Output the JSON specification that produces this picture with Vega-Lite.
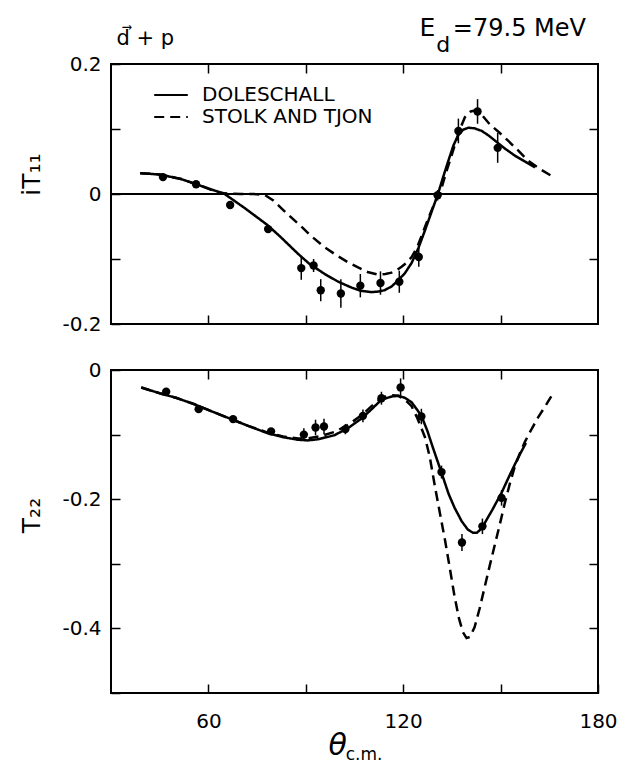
{
  "$schema": "https://vega.github.io/schema/vega-lite/v6.json",
  "background": "white",
  "padding": {"left": 18, "top": 15, "right": 5, "bottom": 0},
  "spacing": 24,
  "config": {
    "font": "DejaVu Sans",
    "view": {"stroke": "black", "strokeWidth": 2},
    "axis": {
      "domain": false,
      "grid": false,
      "tickColor": "black",
      "tickWidth": 1.5,
      "tickSize": -9,
      "labelFont": "DejaVu Sans",
      "labelFontSize": 20,
      "labelColor": "black",
      "labelFlush": false,
      "labelOverlap": false,
      "titleFont": "DejaVu Sans",
      "titleFontWeight": "normal",
      "titleColor": "black"
    }
  },
  "datasets": {
    "itCurves": [
      {"model": "DOLESCHALL", "theta": 39, "v": 0.032},
      {"model": "DOLESCHALL", "theta": 45, "v": 0.030},
      {"model": "DOLESCHALL", "theta": 51.6, "v": 0.023},
      {"model": "DOLESCHALL", "theta": 58, "v": 0.012},
      {"model": "DOLESCHALL", "theta": 65, "v": 0.0},
      {"model": "DOLESCHALL", "theta": 71, "v": -0.021},
      {"model": "DOLESCHALL", "theta": 78, "v": -0.047},
      {"model": "DOLESCHALL", "theta": 82, "v": -0.065},
      {"model": "DOLESCHALL", "theta": 87.6, "v": -0.092},
      {"model": "DOLESCHALL", "theta": 91, "v": -0.107},
      {"model": "DOLESCHALL", "theta": 95.8, "v": -0.123},
      {"model": "DOLESCHALL", "theta": 100, "v": -0.135},
      {"model": "DOLESCHALL", "theta": 104.1, "v": -0.144},
      {"model": "DOLESCHALL", "theta": 107, "v": -0.149},
      {"model": "DOLESCHALL", "theta": 110.2, "v": -0.151},
      {"model": "DOLESCHALL", "theta": 112.5, "v": -0.150},
      {"model": "DOLESCHALL", "theta": 114.3, "v": -0.148},
      {"model": "DOLESCHALL", "theta": 116.5, "v": -0.142},
      {"model": "DOLESCHALL", "theta": 118.4, "v": -0.133},
      {"model": "DOLESCHALL", "theta": 120.5, "v": -0.122},
      {"model": "DOLESCHALL", "theta": 122.6, "v": -0.106},
      {"model": "DOLESCHALL", "theta": 124.7, "v": -0.083},
      {"model": "DOLESCHALL", "theta": 126.7, "v": -0.056},
      {"model": "DOLESCHALL", "theta": 128.7, "v": -0.028},
      {"model": "DOLESCHALL", "theta": 130.7, "v": 0.0},
      {"model": "DOLESCHALL", "theta": 132.3, "v": 0.026},
      {"model": "DOLESCHALL", "theta": 133.9, "v": 0.051},
      {"model": "DOLESCHALL", "theta": 135.5, "v": 0.075},
      {"model": "DOLESCHALL", "theta": 137, "v": 0.091},
      {"model": "DOLESCHALL", "theta": 138.5, "v": 0.099},
      {"model": "DOLESCHALL", "theta": 140.1, "v": 0.102},
      {"model": "DOLESCHALL", "theta": 142, "v": 0.101},
      {"model": "DOLESCHALL", "theta": 144.2, "v": 0.097},
      {"model": "DOLESCHALL", "theta": 146.3, "v": 0.090},
      {"model": "DOLESCHALL", "theta": 148.3, "v": 0.082},
      {"model": "DOLESCHALL", "theta": 151.3, "v": 0.070},
      {"model": "DOLESCHALL", "theta": 154.4, "v": 0.059},
      {"model": "DOLESCHALL", "theta": 157.5, "v": 0.050},
      {"model": "DOLESCHALL", "theta": 160.6, "v": 0.041},
      {"model": "STOLK AND TJON", "theta": 39, "v": 0.032},
      {"model": "STOLK AND TJON", "theta": 45, "v": 0.030},
      {"model": "STOLK AND TJON", "theta": 51.6, "v": 0.023},
      {"model": "STOLK AND TJON", "theta": 58, "v": 0.012},
      {"model": "STOLK AND TJON", "theta": 61.5, "v": 0.005},
      {"model": "STOLK AND TJON", "theta": 65, "v": 0.001},
      {"model": "STOLK AND TJON", "theta": 70, "v": 0.0},
      {"model": "STOLK AND TJON", "theta": 74, "v": 0.0},
      {"model": "STOLK AND TJON", "theta": 77.5, "v": -0.002},
      {"model": "STOLK AND TJON", "theta": 80, "v": -0.010},
      {"model": "STOLK AND TJON", "theta": 82.5, "v": -0.022},
      {"model": "STOLK AND TJON", "theta": 85.5, "v": -0.036},
      {"model": "STOLK AND TJON", "theta": 88.6, "v": -0.050},
      {"model": "STOLK AND TJON", "theta": 91.5, "v": -0.064},
      {"model": "STOLK AND TJON", "theta": 95.8, "v": -0.082},
      {"model": "STOLK AND TJON", "theta": 100, "v": -0.096},
      {"model": "STOLK AND TJON", "theta": 103, "v": -0.105},
      {"model": "STOLK AND TJON", "theta": 106.1, "v": -0.113},
      {"model": "STOLK AND TJON", "theta": 109, "v": -0.120},
      {"model": "STOLK AND TJON", "theta": 112.3, "v": -0.124},
      {"model": "STOLK AND TJON", "theta": 114.5, "v": -0.123},
      {"model": "STOLK AND TJON", "theta": 116.4, "v": -0.121},
      {"model": "STOLK AND TJON", "theta": 118, "v": -0.117},
      {"model": "STOLK AND TJON", "theta": 119.5, "v": -0.112},
      {"model": "STOLK AND TJON", "theta": 121, "v": -0.106},
      {"model": "STOLK AND TJON", "theta": 122.6, "v": -0.097},
      {"model": "STOLK AND TJON", "theta": 124.3, "v": -0.082},
      {"model": "STOLK AND TJON", "theta": 126, "v": -0.060},
      {"model": "STOLK AND TJON", "theta": 128, "v": -0.034},
      {"model": "STOLK AND TJON", "theta": 130, "v": -0.010},
      {"model": "STOLK AND TJON", "theta": 131.3, "v": 0.0},
      {"model": "STOLK AND TJON", "theta": 133, "v": 0.030},
      {"model": "STOLK AND TJON", "theta": 134.5, "v": 0.053},
      {"model": "STOLK AND TJON", "theta": 136, "v": 0.077},
      {"model": "STOLK AND TJON", "theta": 137.5, "v": 0.100},
      {"model": "STOLK AND TJON", "theta": 139, "v": 0.118},
      {"model": "STOLK AND TJON", "theta": 140.8, "v": 0.127},
      {"model": "STOLK AND TJON", "theta": 142.6, "v": 0.129},
      {"model": "STOLK AND TJON", "theta": 144.5, "v": 0.120},
      {"model": "STOLK AND TJON", "theta": 146.7, "v": 0.107},
      {"model": "STOLK AND TJON", "theta": 149.5, "v": 0.095},
      {"model": "STOLK AND TJON", "theta": 152.3, "v": 0.082},
      {"model": "STOLK AND TJON", "theta": 155.4, "v": 0.067},
      {"model": "STOLK AND TJON", "theta": 158.5, "v": 0.051},
      {"model": "STOLK AND TJON", "theta": 162.3, "v": 0.038},
      {"model": "STOLK AND TJON", "theta": 166.3, "v": 0.026}
    ],
    "itData": [
      {"theta": 46.0, "v": 0.026, "err": 0.004},
      {"theta": 56.2, "v": 0.015, "err": 0.004},
      {"theta": 66.7, "v": -0.017, "err": 0.004},
      {"theta": 78.4, "v": -0.054, "err": 0.004},
      {"theta": 88.6, "v": -0.114, "err": 0.018},
      {"theta": 92.4, "v": -0.110, "err": 0.010},
      {"theta": 94.6, "v": -0.148, "err": 0.017},
      {"theta": 100.8, "v": -0.153, "err": 0.022},
      {"theta": 106.8, "v": -0.141, "err": 0.018},
      {"theta": 113.0, "v": -0.137, "err": 0.018},
      {"theta": 118.8, "v": -0.135, "err": 0.017},
      {"theta": 124.8, "v": -0.097, "err": 0.015},
      {"theta": 130.6, "v": -0.002, "err": 0.008},
      {"theta": 137.0, "v": 0.097, "err": 0.019},
      {"theta": 142.9, "v": 0.127, "err": 0.019},
      {"theta": 149.1, "v": 0.071, "err": 0.023}
    ],
    "t22Curves": [
      {"model": "DOLESCHALL", "theta": 39.3, "v": -0.027},
      {"model": "DOLESCHALL", "theta": 45, "v": -0.036},
      {"model": "DOLESCHALL", "theta": 50, "v": -0.043},
      {"model": "DOLESCHALL", "theta": 55.7, "v": -0.053},
      {"model": "DOLESCHALL", "theta": 61, "v": -0.064},
      {"model": "DOLESCHALL", "theta": 67, "v": -0.076},
      {"model": "DOLESCHALL", "theta": 72, "v": -0.086},
      {"model": "DOLESCHALL", "theta": 78.3, "v": -0.098},
      {"model": "DOLESCHALL", "theta": 83, "v": -0.104},
      {"model": "DOLESCHALL", "theta": 87.6, "v": -0.108},
      {"model": "DOLESCHALL", "theta": 90.6, "v": -0.109},
      {"model": "DOLESCHALL", "theta": 94, "v": -0.107},
      {"model": "DOLESCHALL", "theta": 98.8, "v": -0.101},
      {"model": "DOLESCHALL", "theta": 103, "v": -0.090},
      {"model": "DOLESCHALL", "theta": 107.2, "v": -0.075},
      {"model": "DOLESCHALL", "theta": 110, "v": -0.062},
      {"model": "DOLESCHALL", "theta": 113.3, "v": -0.046},
      {"model": "DOLESCHALL", "theta": 116.5, "v": -0.041},
      {"model": "DOLESCHALL", "theta": 118.5, "v": -0.040},
      {"model": "DOLESCHALL", "theta": 120.5, "v": -0.043},
      {"model": "DOLESCHALL", "theta": 122.6, "v": -0.050},
      {"model": "DOLESCHALL", "theta": 124.5, "v": -0.063},
      {"model": "DOLESCHALL", "theta": 125.7, "v": -0.072},
      {"model": "DOLESCHALL", "theta": 127.5, "v": -0.095},
      {"model": "DOLESCHALL", "theta": 129, "v": -0.118},
      {"model": "DOLESCHALL", "theta": 131.8, "v": -0.159},
      {"model": "DOLESCHALL", "theta": 134, "v": -0.192},
      {"model": "DOLESCHALL", "theta": 135.8, "v": -0.213},
      {"model": "DOLESCHALL", "theta": 138, "v": -0.234},
      {"model": "DOLESCHALL", "theta": 139.9, "v": -0.247},
      {"model": "DOLESCHALL", "theta": 141.5, "v": -0.252},
      {"model": "DOLESCHALL", "theta": 142.7, "v": -0.252},
      {"model": "DOLESCHALL", "theta": 144, "v": -0.246},
      {"model": "DOLESCHALL", "theta": 145.1, "v": -0.237},
      {"model": "DOLESCHALL", "theta": 147.5, "v": -0.216},
      {"model": "DOLESCHALL", "theta": 150.3, "v": -0.190},
      {"model": "DOLESCHALL", "theta": 152.5, "v": -0.166},
      {"model": "DOLESCHALL", "theta": 154.4, "v": -0.146},
      {"model": "DOLESCHALL", "theta": 156, "v": -0.130},
      {"model": "DOLESCHALL", "theta": 157.8, "v": -0.113},
      {"model": "STOLK AND TJON", "theta": 39.3, "v": -0.027},
      {"model": "STOLK AND TJON", "theta": 45, "v": -0.036},
      {"model": "STOLK AND TJON", "theta": 50, "v": -0.043},
      {"model": "STOLK AND TJON", "theta": 55.7, "v": -0.053},
      {"model": "STOLK AND TJON", "theta": 61, "v": -0.064},
      {"model": "STOLK AND TJON", "theta": 67, "v": -0.076},
      {"model": "STOLK AND TJON", "theta": 72, "v": -0.086},
      {"model": "STOLK AND TJON", "theta": 78.3, "v": -0.097},
      {"model": "STOLK AND TJON", "theta": 83, "v": -0.103},
      {"model": "STOLK AND TJON", "theta": 87.6, "v": -0.106},
      {"model": "STOLK AND TJON", "theta": 90.6, "v": -0.106},
      {"model": "STOLK AND TJON", "theta": 94, "v": -0.103},
      {"model": "STOLK AND TJON", "theta": 98.8, "v": -0.096},
      {"model": "STOLK AND TJON", "theta": 103, "v": -0.085},
      {"model": "STOLK AND TJON", "theta": 107.2, "v": -0.070},
      {"model": "STOLK AND TJON", "theta": 110, "v": -0.057},
      {"model": "STOLK AND TJON", "theta": 113.3, "v": -0.043},
      {"model": "STOLK AND TJON", "theta": 116.5, "v": -0.039},
      {"model": "STOLK AND TJON", "theta": 118.5, "v": -0.040},
      {"model": "STOLK AND TJON", "theta": 120.5, "v": -0.046},
      {"model": "STOLK AND TJON", "theta": 122.6, "v": -0.056},
      {"model": "STOLK AND TJON", "theta": 124.4, "v": -0.075},
      {"model": "STOLK AND TJON", "theta": 126.7, "v": -0.104},
      {"model": "STOLK AND TJON", "theta": 128.2, "v": -0.135},
      {"model": "STOLK AND TJON", "theta": 129.8, "v": -0.181},
      {"model": "STOLK AND TJON", "theta": 131.4, "v": -0.224},
      {"model": "STOLK AND TJON", "theta": 132.9, "v": -0.264},
      {"model": "STOLK AND TJON", "theta": 134.4, "v": -0.308},
      {"model": "STOLK AND TJON", "theta": 135.8, "v": -0.350},
      {"model": "STOLK AND TJON", "theta": 137.2, "v": -0.385},
      {"model": "STOLK AND TJON", "theta": 138.4, "v": -0.406},
      {"model": "STOLK AND TJON", "theta": 139.5, "v": -0.415},
      {"model": "STOLK AND TJON", "theta": 140.6, "v": -0.413},
      {"model": "STOLK AND TJON", "theta": 142.0, "v": -0.398},
      {"model": "STOLK AND TJON", "theta": 143.5, "v": -0.370},
      {"model": "STOLK AND TJON", "theta": 145.1, "v": -0.336},
      {"model": "STOLK AND TJON", "theta": 146.6, "v": -0.304},
      {"model": "STOLK AND TJON", "theta": 148.2, "v": -0.271},
      {"model": "STOLK AND TJON", "theta": 149.8, "v": -0.238},
      {"model": "STOLK AND TJON", "theta": 151.3, "v": -0.206},
      {"model": "STOLK AND TJON", "theta": 152.9, "v": -0.175},
      {"model": "STOLK AND TJON", "theta": 154.4, "v": -0.149},
      {"model": "STOLK AND TJON", "theta": 156, "v": -0.128},
      {"model": "STOLK AND TJON", "theta": 157.6, "v": -0.110},
      {"model": "STOLK AND TJON", "theta": 159.6, "v": -0.091},
      {"model": "STOLK AND TJON", "theta": 161.6, "v": -0.073},
      {"model": "STOLK AND TJON", "theta": 164, "v": -0.054},
      {"model": "STOLK AND TJON", "theta": 166.3, "v": -0.035}
    ],
    "t22Data": [
      {"theta": 47.0, "v": -0.0335, "err": 0.004},
      {"theta": 57.0, "v": -0.0606, "err": 0.004},
      {"theta": 67.6, "v": -0.076, "err": 0.004},
      {"theta": 79.3, "v": -0.095, "err": 0.004},
      {"theta": 89.4, "v": -0.100, "err": 0.010},
      {"theta": 93.0, "v": -0.089, "err": 0.012},
      {"theta": 95.6, "v": -0.0875, "err": 0.012},
      {"theta": 102.2, "v": -0.0915, "err": 0.008},
      {"theta": 107.6, "v": -0.071, "err": 0.010},
      {"theta": 113.3, "v": -0.0437, "err": 0.010},
      {"theta": 119.2, "v": -0.027, "err": 0.014},
      {"theta": 125.6, "v": -0.072, "err": 0.012},
      {"theta": 131.8, "v": -0.158, "err": 0.010},
      {"theta": 138.1, "v": -0.267, "err": 0.013},
      {"theta": 144.4, "v": -0.242, "err": 0.012},
      {"theta": 150.3, "v": -0.198, "err": 0.012}
    ]
  },
  "resolve": {"legend": {"strokeDash": "independent"}},
  "vconcat": [
    {
      "width": 487,
      "height": 260,
      "resolve": {"axis": {"x": "independent", "y": "independent"}},
      "layer": [
        {
          "data": {"values": [{}]},
          "mark": {"type": "rule", "color": "black", "strokeWidth": 2},
          "encoding": {
            "y": {"datum": 0, "type": "quantitative", "scale": {"domain": [-0.2, 0.2], "nice": false, "zero": false}, "axis": null}
          }
        },
        {
          "data": {"name": "itCurves"},
          "mark": {"type": "line", "color": "black", "strokeWidth": 2.5},
          "encoding": {
            "x": {"field": "theta", "type": "quantitative", "scale": {"domain": [30, 180], "nice": false, "zero": false},
                  "axis": {"orient": "bottom", "values": [60, 90, 120, 150], "labels": false, "title": null}},
            "y": {"field": "v", "type": "quantitative", "scale": {"domain": [-0.2, 0.2], "nice": false, "zero": false},
                  "axis": {"orient": "left", "values": [-0.2, -0.1, 0, 0.1, 0.2],
                           "labelExpr": "abs(round(datum.value*10)) % 2 == 1 ? '' : (datum.value < 0 ? '-' : '') + format(abs(datum.value), '.1~f')",
                           "labelPadding": 19,
                           "title": "iT₁₁", "titleFontSize": 25, "titleX": -80, "titleY": 110, "titleAlign": "center", "titleBaseline": "middle", "titleAngle": -90}},
            "strokeDash": {"field": "model", "type": "nominal",
                           "scale": {"domain": ["DOLESCHALL", "STOLK AND TJON"], "range": [[1, 0], [10, 6]]},
                           "legend": {"title": null, "orient": "none", "legendX": 48, "legendY": 19, "padding": 0,
                                      "symbolType": "M-1.6,0H1.6", "symbolSize": 441, "symbolStrokeWidth": 2.2, "symbolStrokeColor": "black",
                                      "labelFontSize": 20, "labelColor": "black", "labelOffset": 19, "rowPadding": 0, "labelLimit": 400,
                                      "labelFont": "DejaVu Sans"}}
          }
        },
        {
          "data": {"name": "itData"},
          "mark": {"type": "errorbar", "ticks": false, "color": "black", "thickness": 1.5},
          "encoding": {
            "x": {"field": "theta", "type": "quantitative", "scale": {"domain": [30, 180], "nice": false, "zero": false},
                  "axis": {"orient": "top", "values": [60, 90, 120, 150], "labels": false, "title": null}},
            "y": {"field": "v", "type": "quantitative", "scale": {"domain": [-0.2, 0.2], "nice": false, "zero": false},
                  "axis": {"orient": "right", "values": [-0.1, 0.1], "labels": false, "title": null}},
            "yError": {"field": "err"}
          }
        },
        {
          "data": {"name": "itData"},
          "mark": {"type": "point", "filled": true, "color": "black", "size": 70, "opacity": 1},
          "encoding": {
            "x": {"field": "theta", "type": "quantitative", "scale": {"domain": [30, 180], "nice": false, "zero": false}, "axis": null},
            "y": {"field": "v", "type": "quantitative", "scale": {"domain": [-0.2, 0.2], "nice": false, "zero": false}, "axis": null}
          }
        },
        {
          "data": {"values": [{}]},
          "mark": {"type": "text", "text": "d⃗ + p", "fontSize": 21, "align": "left", "baseline": "alphabetic", "color": "black"},
          "encoding": {
            "x": {"datum": 31.7, "type": "quantitative", "scale": {"domain": [30, 180], "nice": false, "zero": false}, "axis": null},
            "y": {"datum": 0.229, "type": "quantitative", "scale": {"domain": [-0.2, 0.2], "nice": false, "zero": false}, "axis": null}
          }
        },
        {
          "data": {"values": [{}]},
          "mark": {"type": "text", "text": "E", "fontSize": 25, "align": "left", "baseline": "alphabetic", "color": "black"},
          "encoding": {
            "x": {"datum": 125.0, "type": "quantitative", "scale": {"domain": [30, 180], "nice": false, "zero": false}, "axis": null},
            "y": {"datum": 0.243, "type": "quantitative", "scale": {"domain": [-0.2, 0.2], "nice": false, "zero": false}, "axis": null}
          }
        },
        {
          "data": {"values": [{}]},
          "mark": {"type": "text", "text": "d", "fontSize": 22, "align": "left", "baseline": "alphabetic", "color": "black"},
          "encoding": {
            "x": {"datum": 130.2, "type": "quantitative", "scale": {"domain": [30, 180], "nice": false, "zero": false}, "axis": null},
            "y": {"datum": 0.218, "type": "quantitative", "scale": {"domain": [-0.2, 0.2], "nice": false, "zero": false}, "axis": null}
          }
        },
        {
          "data": {"values": [{}]},
          "mark": {"type": "text", "text": "=79.5 MeV", "fontSize": 24, "align": "left", "baseline": "alphabetic", "color": "black"},
          "encoding": {
            "x": {"datum": 135.3, "type": "quantitative", "scale": {"domain": [30, 180], "nice": false, "zero": false}, "axis": null},
            "y": {"datum": 0.243, "type": "quantitative", "scale": {"domain": [-0.2, 0.2], "nice": false, "zero": false}, "axis": null}
          }
        }
      ]
    },
    {
      "width": 487,
      "height": 323,
      "resolve": {"axis": {"x": "independent", "y": "independent"}},
      "layer": [
        {
          "data": {"name": "t22Curves"},
          "mark": {"type": "line", "color": "black", "strokeWidth": 2.5},
          "encoding": {
            "x": {"field": "theta", "type": "quantitative", "scale": {"domain": [30, 180], "nice": false, "zero": false},
                  "axis": {"orient": "bottom", "values": [60, 90, 120, 150, 180],
                           "labelExpr": "datum.value % 60 == 0 ? format(datum.value, 'd') : ''",
                           "labelPadding": 27, "title": null}},
            "y": {"field": "v", "type": "quantitative", "scale": {"domain": [-0.5, 0], "nice": false, "zero": false},
                  "axis": {"orient": "left", "values": [0, -0.1, -0.2, -0.3, -0.4, -0.5],
                           "labelExpr": "abs(round(datum.value*10)) % 2 == 1 ? '' : (datum.value < 0 ? '-' : '') + format(abs(datum.value), '.1~f')",
                           "labelPadding": 19,
                           "title": "T₂₂", "titleFontSize": 25, "titleX": -80, "titleY": 145, "titleAlign": "center", "titleBaseline": "middle", "titleAngle": -90}},
            "strokeDash": {"field": "model", "type": "nominal",
                           "scale": {"domain": ["DOLESCHALL", "STOLK AND TJON"], "range": [[1, 0], [10, 6]]},
                           "legend": null}
          }
        },
        {
          "data": {"name": "t22Data"},
          "mark": {"type": "errorbar", "ticks": false, "color": "black", "thickness": 1.5},
          "encoding": {
            "x": {"field": "theta", "type": "quantitative", "scale": {"domain": [30, 180], "nice": false, "zero": false},
                  "axis": {"orient": "top", "values": [60, 90, 120, 150], "labels": false, "title": null}},
            "y": {"field": "v", "type": "quantitative", "scale": {"domain": [-0.5, 0], "nice": false, "zero": false},
                  "axis": {"orient": "right", "values": [-0.1, -0.2, -0.3, -0.4], "labels": false, "title": null}},
            "yError": {"field": "err"}
          }
        },
        {
          "data": {"name": "t22Data"},
          "mark": {"type": "point", "filled": true, "color": "black", "size": 70, "opacity": 1},
          "encoding": {
            "x": {"field": "theta", "type": "quantitative", "scale": {"domain": [30, 180], "nice": false, "zero": false}, "axis": null},
            "y": {"field": "v", "type": "quantitative", "scale": {"domain": [-0.5, 0], "nice": false, "zero": false}, "axis": null}
          }
        },
        {
          "data": {"values": [{}]},
          "mark": {"type": "text", "text": "θ", "fontSize": 30, "fontStyle": "italic", "align": "left", "baseline": "alphabetic", "color": "black", "font": "DejaVu Sans"},
          "encoding": {
            "x": {"datum": 97.0, "type": "quantitative", "scale": {"domain": [30, 180], "nice": false, "zero": false}, "axis": null},
            "y": {"datum": -0.596, "type": "quantitative", "scale": {"domain": [-0.5, 0], "nice": false, "zero": false}, "axis": null}
          }
        },
        {
          "data": {"values": [{}]},
          "mark": {"type": "text", "text": "c.m.", "fontSize": 17, "align": "left", "baseline": "alphabetic", "color": "black"},
          "encoding": {
            "x": {"datum": 102.3, "type": "quantitative", "scale": {"domain": [30, 180], "nice": false, "zero": false}, "axis": null},
            "y": {"datum": -0.603, "type": "quantitative", "scale": {"domain": [-0.5, 0], "nice": false, "zero": false}, "axis": null}
          }
        }
      ]
    }
  ]
}
